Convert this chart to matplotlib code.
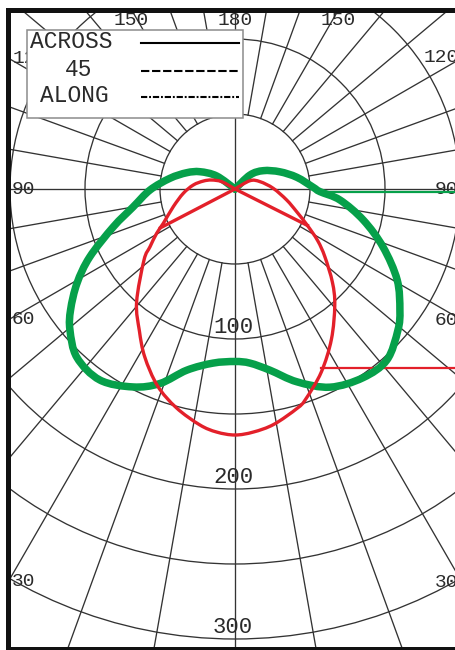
import numpy as np
import matplotlib
matplotlib.use('Agg')
import matplotlib.pyplot as plt
import matplotlib.patches as mpatches
from matplotlib.path import Path

# ── Data: intensity (cd/klm) vs angle from nadir (deg), negative = left half ──
RINGS       = [50, 100, 150, 200, 250, 300]
RING_LABELS = [100, 200, 300]
RAY_STEP    = 10
ANGLE_TICKS = [30, 60, 90, 120, 150, 180]

RED_ANG = [-125, -118.8, -111, -104, -95.5, -85.2, -74, -64.4, -60.5, -55.8, -52, -41, -34,
           -28.3, -21.5, -15, -8.5, -4.3, 0, 4.3, 9.4, 15.8, 18.5, 25.2, 32.7, 40.7, 46.2,
           53, 58, 63.3, 69.8, 78, 91, 106.3, 119, 130]
RED_VAL = [0, 10.1, 16.7, 21.8, 27.9, 34.6, 42.8, 53, 60, 68.5, 77, 100, 114,
           127, 141, 151, 159, 162.5, 164, 162.5, 159, 152, 148, 135, 119, 102, 90,
           75, 65, 54, 43.8, 35.2, 25.5, 17.4, 11.4, 0]
# straight segments joining the centre to the two cut-off points
RED_CUT_ANG = [-62.5, 0, 63.3]
RED_CUT_VAL = [56, 0, 54]

GREEN_ANG = [-135, -125.4, -116.3, -108.6, -99.3, -89.3, -80, -72.7, -64.9, -59.2, -53.7,
             -49.5, -43.2, -35.3, -27.3, -21.1, -14.9, -7.2, 0, 4.9, 10.9, 17.8, 25.6, 34.1,
             41.6, 49.1, 53.7, 60.7, 68.6, 76.4, 84, 88.2, 91.2, 100.7, 111, 122.9, 133, 145]
GREEN_VAL = [0, 15, 26, 34, 44, 56.7, 69, 85, 107, 122.6, 136,
             144.7, 154, 156, 148.5, 139, 125, 117, 115, 116.5, 123, 135, 146.5, 152,
             152.5, 143.7, 136.4, 124, 106, 88, 70.4, 56.7, 52.2, 42, 32, 22.5, 13.7, 0]

GREEN_LEADER_ANG = 88.2
RED_LEADER_ANG   = 25.2

LEGEND_LABELS = ['ACROSS', '45', 'ALONG']
LEGEND_STYLES = ['-', (0, (4, 1.3)), (0, (3, 0.9, 0.9, 0.9))]

# ── Geometry (pixels) ──
W, H   = 456, 650
CX, CY = 235, 189          # pole position
S      = 1.5               # px per cd/klm
FL, FT, FR, FB = 8.5, 9.5, 462, 649   # frame edges

GRID_C = '#333333'
TXT_C  = '#2a2a2a'
RED    = '#e3202a'
GREEN  = '#06a04a'
MONO   = 'Liberation Mono'


def to_xy(ang, val):
    a = np.radians(np.asarray(ang, dtype=float))
    v = np.asarray(val, dtype=float)
    return v * np.sin(a), -v * np.cos(a)


def smooth_path(xs, ys):
    # cubic Bezier through the measured points (Catmull-Rom tangents)
    p = np.column_stack([xs, ys])
    pp = np.vstack([p[0], p, p[-1]])
    verts, codes = [p[0]], [Path.MOVETO]
    for i in range(1, len(pp) - 2):
        c1 = pp[i] + (pp[i + 1] - pp[i - 1]) / 6
        c2 = pp[i + 1] - (pp[i + 2] - pp[i]) / 6
        verts += [c1, c2, pp[i + 1]]
        codes += [Path.CURVE4] * 3
    return Path(verts, codes)


fig = plt.figure(figsize=(W / 100, H / 100), dpi=100)
fig.patch.set_facecolor('white')

ax = fig.add_axes([FL / W, 1 - FB / H, (FR - FL) / W, (FB - FT) / H])
xmin, xmax = (FL - CX) / S, (FR - CX) / S
ymin, ymax = (CY - FB) / S, (CY - FT) / S
ax.set_xlim(xmin, xmax)
ax.set_ylim(ymin, ymax)
ax.set_xticks([]); ax.set_yticks([])
for sp in ax.spines.values():
    sp.set_linewidth(3.6)
    sp.set_color('#111111')

# ── Polar grid ──
for r in RINGS:
    ax.add_patch(mpatches.Circle((0, 0), r, fill=False, ec=GRID_C, lw=0.95, zorder=1))
for a in range(0, 360, RAY_STEP):
    r0 = 0 if a % 90 == 0 else RINGS[0]
    xs, ys = to_xy([a, a], [r0, 600])
    ax.plot(xs, ys, color=GRID_C, lw=0.95, zorder=1)

# radial value labels
for v in RING_LABELS:
    ax.text(-1.3, -v + 4, str(v), ha='center', va='baseline', fontsize=16,
            family=MONO, color=TXT_C, zorder=2)

# angle labels where the rays meet the frame
for a in ANGLE_TICKS:
    for side in ([1] if a == 180 else [-1, 1]):
        dx = side * np.sin(np.radians(a))
        dy = -np.cos(np.radians(a))
        ts = []
        if abs(dx) > 1e-9:
            ts.append(((xmax if dx > 0 else xmin) / dx, 'x'))
        if abs(dy) > 1e-9:
            ts.append(((ymax if dy > 0 else ymin) / dy, 'y'))
        t, edge = min(ts)
        px, py = t * dx, t * dy
        if edge == 'y':
            ax.text(px, ymax - 7, str(a), ha='center', va='center', fontsize=14,
                    family=MONO, color=TXT_C, zorder=2)
        elif dx < 0:
            ax.text(xmin + 2.4, py, str(a), ha='left', va='center', fontsize=14,
                    family=MONO, color=TXT_C, zorder=2)
        else:
            ax.text(xmax - 2.4, py, str(a), ha='right', va='center', fontsize=14,
                    family=MONO, color=TXT_C, zorder=2)

# ── Curves ──
gx, gy = to_xy(GREEN_ANG, GREEN_VAL)
ax.add_patch(mpatches.PathPatch(smooth_path(gx, gy), fill=False, ec=GREEN, lw=5.4,
                                joinstyle='round', capstyle='round', zorder=3))
lx, ly = to_xy(GREEN_LEADER_ANG, GREEN_VAL[GREEN_ANG.index(GREEN_LEADER_ANG)])
ax.plot([lx, xmax + 20], [ly, ly], color=GREEN, lw=1.6, zorder=3)

rx, ry = to_xy(RED_ANG, RED_VAL)
ax.add_patch(mpatches.PathPatch(smooth_path(rx, ry), fill=False, ec=RED, lw=2.4,
                                joinstyle='round', capstyle='round', zorder=4))
cx_, cy_ = to_xy(RED_CUT_ANG, RED_CUT_VAL)
ax.plot(cx_, cy_, color=RED, lw=2.4, solid_joinstyle='round', zorder=4)
lx, ly = to_xy(RED_LEADER_ANG, RED_VAL[RED_ANG.index(RED_LEADER_ANG)])
ax.plot([lx, xmax + 20], [ly + 3, ly + 3], color=RED, lw=1.6, zorder=2.5)

# ── Legend box (pixel overlay) ──
ax_px = fig.add_axes([0, 0, 1, 1])
ax_px.set_xlim(0, W); ax_px.set_ylim(H, 0)
ax_px.axis('off')
ax_px.add_patch(mpatches.Rectangle((27, 30), 216, 88, fc='white', ec='#8c8c8c', lw=1.1))
for (lab, ls), tx, ty in zip(zip(LEGEND_LABELS, LEGEND_STYLES),
                             [71, 78.5, 74], [42, 70, 96]):
    ax_px.text(tx, ty, lab, ha='center', va='center', fontsize=16.5,
               family=MONO, color=TXT_C)
    ax_px.plot([141, 239], [ty + 1, ty + 1], color='black', lw=1.5, linestyle=ls)

fig.savefig('out.png', dpi=100, facecolor='white')
